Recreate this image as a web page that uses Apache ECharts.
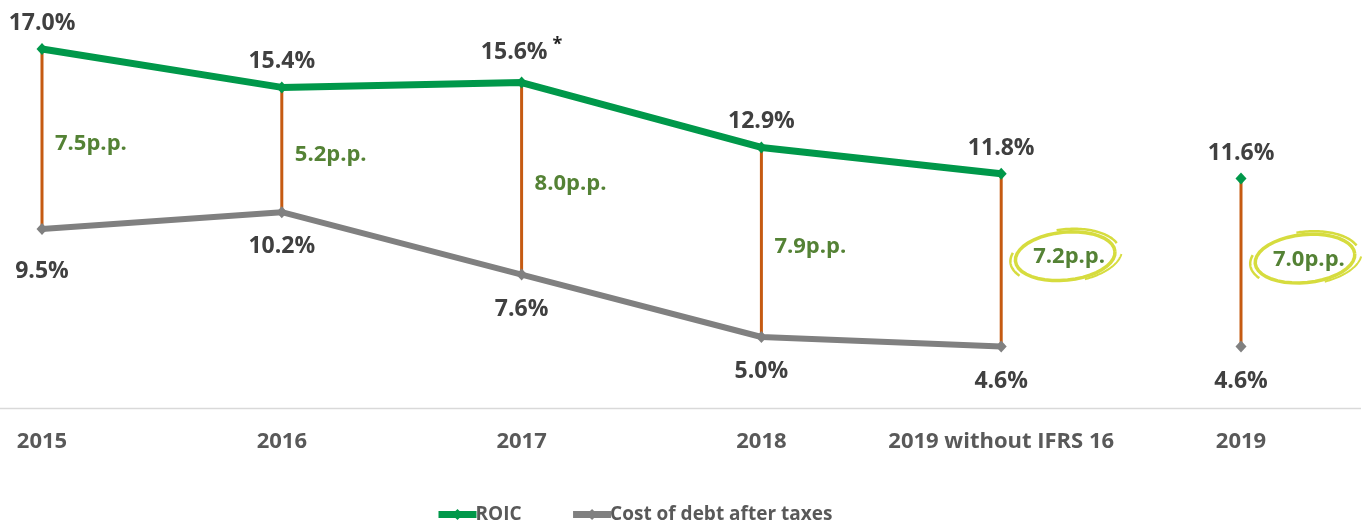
<!DOCTYPE html>
<html>
<head>
<meta charset="utf-8">
<script src="https://cdn.jsdelivr.net/npm/echarts@6/dist/echarts.min.js"></script>
<style>
  html, body { margin: 0; padding: 0; background: #ffffff; }
  #chart { width: 1372px; height: 525px; }
</style>
</head>
<body>
<div id="chart"></div>
<script>
// Years on the category axis
const categories = ['2015', '2016', '2017', '2018', '2019 without IFRS 16', '2019'];
// Return on invested capital, %
const roic = [17.0, 15.4, 15.6, 12.9, 11.8, 11.6];
// Cost of debt after taxes, %
const costOfDebt = [9.5, 10.2, 7.6, 5.0, 4.6, 4.6];
// Footnote marks attached to ROIC labels
const roicNotes = ['', '', '*', '', '', ''];
// Number of leading categories joined by a line; the rest stand alone
const joinedCount = 5;
// Spreads drawn inside a highlight ring
const circled = [4, 5];

const FONT = '"Open Sans", "Noto Sans", sans-serif';
const GREEN = '#00984a';
const GREY = '#808080';
const ORANGE = '#c55a11';
const PP_GREEN = '#548235';
const RING = '#d6dc3e';

const GRID = { left: 42, right: 131, top: 1, bottom: 116 };
const CHART_W = 1372, CHART_H = 525;

function ellipsePts(cx, cy, rx, ry, a0, a1, rot) {
  const pts = [];
  const n = 40;
  const c = Math.cos(rot), s = Math.sin(rot);
  for (let k = 0; k <= n; k++) {
    const a = a0 + (a1 - a0) * k / n;
    const x = rx * Math.cos(a), y = ry * Math.sin(a);
    pts.push([cx + x * c + y * s, cy - x * s + y * c]);
  }
  return pts;
}

const labelBase = {
  show: true,
  color: '#404040',
  fontFamily: FONT,
  fontWeight: 'bold',
  fontSize: 23
};

const roicRich = {
  v: { color: '#404040', fontFamily: FONT, fontWeight: 'bold', fontSize: 23 },
  s: { color: '#202020', fontFamily: FONT, fontWeight: 'bold', fontSize: 18, padding: [0, 0, 15, 5] }
};

// Build the points of one line series; indexes outside `keep` are gaps
function points(values, keep, labelFor) {
  return values.map((v, i) => {
    if (!keep(i)) return '-';
    const item = { value: v };
    if (labelFor) item.label = labelFor(i);
    return item;
  });
}
const isJoined = i => i < joinedCount;
const isApart = i => i >= joinedCount;

const roicLabelFor = i => ({
  formatter: roicNotes[i]
    ? '{v|' + roic[i].toFixed(1) + '%}{s|' + roicNotes[i] + '}'
    : '{v|' + roic[i].toFixed(1) + '%}'
});
const costLabelFor = i => ({
  formatter: costOfDebt[i].toFixed(1) + '%',
  // the first cost label sits a little lower, clear of the spread line
  offset: i === 0 ? [0, 8] : [0, 0]
});

function lineSeries(name, data, color, width, labelPos, rich) {
  return {
    name: name,
    type: 'line',
    data: data,
    z: 3,
    symbol: 'diamond',
    symbolSize: [11, 12],
    showSymbol: true,
    itemStyle: { color: color },
    lineStyle: { color: color, width: width },
    label: Object.assign({}, labelBase, {
      position: labelPos,
      distance: labelPos === 'top' ? 8 : 17,
      rich: rich
    }),
    emphasis: { disabled: true },
    animation: false
  };
}

const spreadData = categories.map((c, i) => [i, roic[i], costOfDebt[i]]);

const option = {
  backgroundColor: '#ffffff',
  animation: false,
  grid: Object.assign({ containLabel: false }, GRID),
  graphic: [
    {
      // baseline across the full plot width
      type: 'line',
      silent: true,
      shape: { x1: 0, y1: CHART_H - GRID.bottom - 0.5, x2: 1361, y2: CHART_H - GRID.bottom - 0.5 },
      style: { stroke: '#d9d9d9', lineWidth: 1.5 },
      z: 0
    }
  ],
  xAxis: {
    type: 'category',
    data: categories,
    boundaryGap: false,
    axisLine: { show: false },
    axisTick: { show: false },
    axisLabel: {
      color: '#595959',
      fontFamily: FONT,
      fontWeight: 'bold',
      fontSize: 22,
      margin: 22,
      interval: 0
    },
    splitLine: { show: false }
  },
  yAxis: {
    type: 'value',
    min: 2,
    max: 19,
    show: false
  },
  legend: {
    left: 430,
    top: 500,
    itemWidth: 38,
    itemHeight: 14,
    itemGap: 48,
    data: ['ROIC', 'Cost of debt after taxes'],
    lineStyle: { width: 7 },
    textStyle: { color: '#595959', fontFamily: FONT, fontWeight: 'bold', fontSize: 19, padding: [0, 0, 0, -6] },
    selectedMode: false
  },
  series: [
    {
      name: 'spread',
      type: 'custom',
      z: 1,
      data: spreadData,
      encode: { x: 0, y: [1, 2] },
      renderItem: function (params, api) {
        const i = api.value(0);
        const top = api.coord([i, api.value(1)]);
        const bot = api.coord([i, api.value(2)]);
        const midY = (top[1] + bot[1]) / 2;
        const ring = circled.indexOf(params.dataIndex) >= 0;
        const textX = top[0] + (ring ? 32 : 13);
        const diff = (api.value(1) - api.value(2)).toFixed(1) + 'p.p.';
        const children = [
          {
            type: 'line',
            shape: { x1: top[0], y1: top[1], x2: bot[0], y2: bot[1] },
            style: { stroke: ORANGE, lineWidth: 3 }
          },
          {
            type: 'text',
            style: {
              x: textX,
              y: midY + (ring ? -3 : 5),
              text: diff,
              fill: PP_GREEN,
              font: 'bold 22px ' + FONT,
              textAlign: 'left',
              textVerticalAlign: 'middle'
            }
          }
        ];
        if (ring) {
          const cx = top[0] + 64, cy = midY - 4;
          children.push({
            type: 'polyline',
            shape: { points: ellipsePts(cx, cy, 50, 24, 0, Math.PI * 2, 0.1) },
            style: { stroke: RING, lineWidth: 3.5, fill: null }
          });
          children.push({
            type: 'polyline',
            shape: { points: ellipsePts(cx + 2, cy - 1, 55, 27, 0.2, 1.3, 0.12) },
            style: { stroke: RING, lineWidth: 2, fill: null }
          });
          children.push({
            type: 'polyline',
            shape: { points: ellipsePts(cx + 1, cy, 54, 27, -1.7, -0.3, 0.1) },
            style: { stroke: RING, lineWidth: 2.5, fill: null }
          });
          children.push({
            type: 'polyline',
            shape: { points: ellipsePts(cx - 1, cy + 1, 54, 27, 2.6, 3.5, 0.1) },
            style: { stroke: RING, lineWidth: 2.5, fill: null }
          });
        }
        return { type: 'group', children: children };
      },
      animation: false
    },
    lineSeries('ROIC', points(roic, isJoined, roicLabelFor), GREEN, 7, 'top', roicRich),
    lineSeries('ROIC', points(roic, isApart, roicLabelFor), GREEN, 7, 'top', roicRich),
    lineSeries('Cost of debt after taxes', points(costOfDebt, isJoined, costLabelFor), GREY, 6, 'bottom'),
    lineSeries('Cost of debt after taxes', points(costOfDebt, isApart, costLabelFor), GREY, 6, 'bottom')
  ]
};

const chart = echarts.init(document.getElementById('chart'), null, { renderer: 'canvas' });
chart.setOption(option);
</script>
</body>
</html>
